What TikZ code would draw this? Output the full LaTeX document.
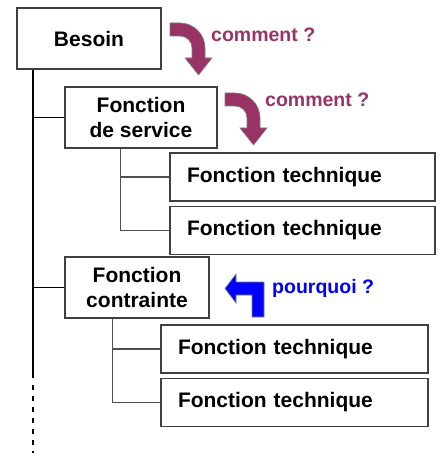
\documentclass[tikz,border=0pt]{standalone}
\usepackage{fontspec}
\setmainfont{Liberation Sans}
\usetikzlibrary{positioning}
\definecolor{prune}{HTML}{993366}
\definecolor{bordure}{HTML}{404040}
\definecolor{liaison}{HTML}{505050}
% fleche courbe "comment ?", placee par son coin haut gauche
\newcommand{\flechecomment}[1]{%
  \fill[prune, draw=gray, line width=0.6pt, shift={#1}]
    (0,0) -- (10,0) arc[start angle=-90, end angle=0, radius=25]
    -- (35,35) -- (42,35) -- (28.5,52) -- (15,35) -- (22,35) -- (22,25)
    arc[start angle=0, end angle=-90, radius=12] -- (0,13) -- cycle;}

\begin{document}
\begin{tikzpicture}[x=1pt, y=-1pt,
    boite/.style={draw=bordure, line width=1.2pt, rectangle, inner sep=0pt,
      align=center, font=\bfseries\fontsize{21}{25}\selectfont},
    tech/.style={boite, minimum height=48, inner xsep=17pt, text width=231pt, align=left},
    trait/.style={line width=1.2pt},
    branche/.style={draw=liaison, line width=1.2pt},
    question/.style={inner sep=0pt, anchor=base west,
      font=\bfseries\fontsize{19.5}{22}\selectfont}]

    \useasboundingbox (0,0) rectangle (440,457);

    % les boites
    \node[boite, minimum width=144, minimum height=61] (besoin) at (89,38.5) {Besoin};
    \node[boite, minimum width=152, minimum height=61] (service) at (141,117.5) {Fonction\\de service};
    \node[tech] (ft1) at (302.5,177) {Fonction technique};
    \node[tech, below=4pt of ft1] (ft2) {Fonction technique};
    \node[boite, minimum width=144, minimum height=61] (contrainte) at (137,287.5) {Fonction\\contrainte};
    \node[tech, text width=233pt] (ft3) at (294.5,349) {Fonction technique};
    \node[tech, text width=233pt, below=4pt of ft3] (ft4) {Fonction technique};

    % le tronc
    \coordinate (tronc) at (33,378);
    \coordinate (fin) at (33,453);
    \draw[trait] (besoin.south -| tronc) -- (tronc);
    \draw[trait, dash pattern=on 5pt off 6pt] ([yshift=-7pt]tronc) -- (fin);
    \draw[trait] (tronc |- service.west) -- (service.west);
    \draw[trait] (tronc |- contrainte.west) -- (contrainte.west);

    % les branches
    \coordinate (b1) at ([xshift=56pt]service.south west);
    \draw[branche] (b1) |- (ft2.west);
    \draw[branche] (b1 |- ft1.west) -- (ft1.west);
    \coordinate (b2) at ([xshift=48pt]contrainte.south west);
    \draw[branche] (b2) |- (ft4.west);
    \draw[branche] (b2 |- ft3.west) -- (ft3.west);

    % les fleches
    \flechecomment{(170,23)}
    \flechecomment{(225,93)}
    \fill[blue, draw=gray, line width=0.6pt] (264,317) -- (264,282) -- (236,282)
      -- (236,274) -- (225,288.5) -- (236,303) -- (236,295) -- (252,295)
      -- (252,317) -- cycle;

    \node[question, text=prune] (comment1) at (211,42) {comment ?};
    \node[question, text=prune] (comment2) at (265,107) {comment ?};
    \node[question, text=blue] (pourquoi) at (272,293) {pourquoi ?};

\end{tikzpicture}
\end{document}
